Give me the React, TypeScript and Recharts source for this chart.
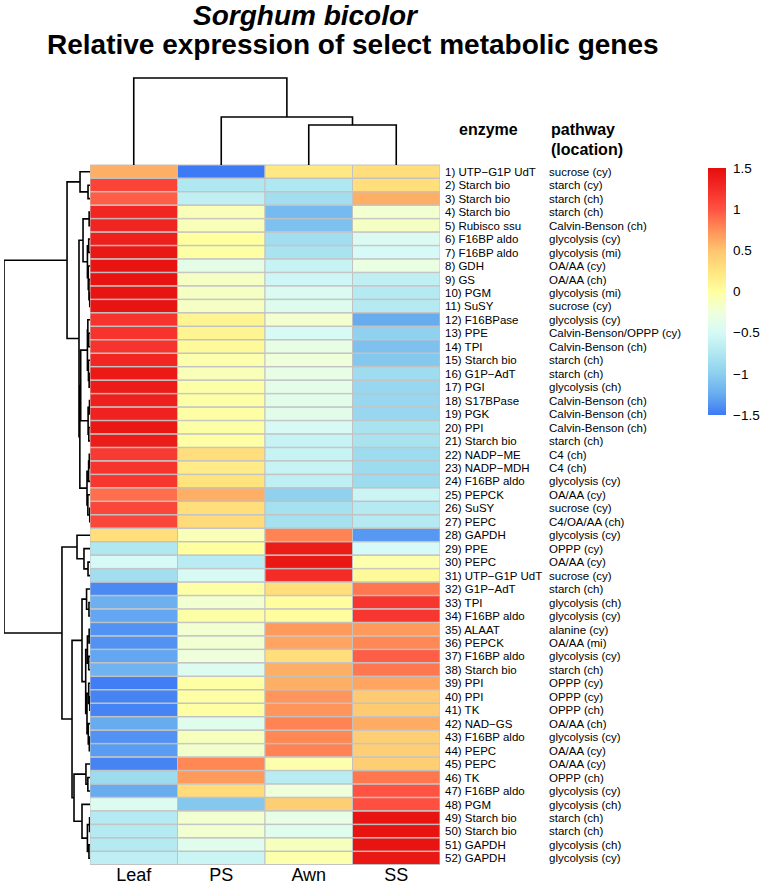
import React from 'react';
import { ComposedChart, XAxis, YAxis, Bar, Cell, Line } from 'recharts';

const FONT = '"Liberation Sans", Arial, Helvetica, sans-serif';

const samples = ['Leaf', 'PS', 'Awn', 'SS'];

const enzymes = [
  'UTP\u2212G1P UdT', 'Starch bio', 'Starch bio', 'Starch bio', 'Rubisco ssu', 'F16BP aldo', 'F16BP aldo', 'GDH', 'GS', 'PGM',
  'SuSY', 'F16BPase', 'PPE', 'TPI', 'Starch bio', 'G1P\u2212AdT', 'PGI', 'S17BPase', 'PGK', 'PPI',
  'Starch bio', 'NADP\u2212ME', 'NADP\u2212MDH', 'F16BP aldo', 'PEPCK', 'SuSY', 'PEPC', 'GAPDH', 'PPE', 'PEPC',
  'UTP\u2212G1P UdT', 'G1P\u2212AdT', 'TPI', 'F16BP aldo', 'ALAAT', 'PEPCK', 'F16BP aldo', 'Starch bio', 'PPI', 'PPI',
  'TK', 'NAD\u2212GS', 'F16BP aldo', 'PEPC', 'PEPC', 'TK', 'F16BP aldo', 'PGM', 'Starch bio', 'Starch bio',
  'GAPDH', 'GAPDH',
];

const pathways = [
  'sucrose (cy)', 'starch (cy)', 'starch (ch)', 'starch (ch)', 'Calvin-Benson (ch)', 'glycolysis (cy)', 'glycolysis (mi)', 'OA/AA (cy)', 'OA/AA (ch)', 'glycolysis (mi)',
  'sucrose (cy)', 'glycolysis (cy)', 'Calvin-Benson/OPPP (cy)', 'Calvin-Benson (ch)', 'starch (ch)', 'starch (ch)', 'glycolysis (ch)', 'Calvin-Benson (ch)', 'Calvin-Benson (ch)', 'Calvin-Benson (ch)',
  'starch (ch)', 'C4 (ch)', 'C4 (ch)', 'glycolysis (cy)', 'OA/AA (cy)', 'sucrose (cy)', 'C4/OA/AA (ch)', 'glycolysis (cy)', 'OPPP (cy)', 'OA/AA (cy)',
  'sucrose (cy)', 'starch (ch)', 'glycolysis (ch)', 'glycolysis (cy)', 'alanine (cy)', 'OA/AA (mi)', 'glycolysis (cy)', 'starch (ch)', 'OPPP (cy)', 'OPPP (cy)',
  'OPPP (ch)', 'OA/AA (ch)', 'glycolysis (cy)', 'OA/AA (cy)', 'OA/AA (cy)', 'OPPP (ch)', 'glycolysis (cy)', 'glycolysis (ch)', 'starch (ch)', 'starch (ch)',
  'glycolysis (ch)', 'glycolysis (cy)',
];

const leafValues = [
  0.6, 1.1, 0.95, 1.3, 1.32, 1.35, 1.42, 1.45, 1.45, 1.45,
  1.45, 1.2, 1.2, 1.2, 1.3, 1.4, 1.38, 1.35, 1.33, 1.42,
  1.38, 1.15, 1.2, 1.18, 0.88, 1.08, 1.08, 0.3, -0.75, -0.5,
  -0.85, -1.42, -1.22, -1.28, -1.38, -1.38, -1.28, -1.2, -1.48, -1.45,
  -1.45, -1.25, -1.38, -1.33, -1.45, -0.88, -1.25, -0.43, -0.72, -0.72,
  -0.72, -0.65,
];
const psValues = [
  -1.5, -0.75, -0.65, -0.1, -0.1, 0.0, -0.02, -0.35, -0.15, -0.15,
  -0.15, 0.1, 0.1, 0.05, -0.05, -0.1, -0.03, -0.03, -0.02, -0.03,
  -0.02, 0.3, 0.18, 0.25, 0.6, 0.3, 0.32, -0.1, 0.0, -0.7,
  -0.48, -0.03, -0.2, -0.03, -0.2, -0.2, -0.25, -0.43, -0.02, -0.02,
  -0.02, -0.4, -0.12, -0.18, 0.78, 0.7, 0.32, -1.05, -0.2, -0.2,
  -0.4, -0.57,
];
const awnValues = [
  0.2, -0.75, -0.85, -1.15, -1.1, -0.85, -0.8, -0.6, -0.55, -0.45,
  -0.42, -0.2, -0.48, -0.32, -0.25, -0.33, -0.36, -0.38, -0.38, -0.48,
  -0.6, -0.6, -0.6, -0.65, -0.98, -0.82, -0.82, 0.8, 1.38, 1.42,
  1.25, 0.3, 0.02, 0.02, 0.7, 0.65, 0.3, 0.6, 0.6, 0.72,
  0.72, 0.8, 0.78, 0.8, -0.05, -0.7, -0.25, 0.42, -0.33, -0.4,
  -0.12, -0.05,
];
const ssValues = [
  0.3, 0.3, 0.6, -0.2, -0.15, -0.45, -0.5, -0.3, -0.65, -0.72,
  -0.72, -1.25, -0.98, -1.1, -1.05, -0.87, -0.92, -0.92, -0.92, -0.8,
  -0.8, -0.88, -0.88, -0.88, -0.57, -0.72, -0.72, -1.35, -0.5, -0.05,
  0.05, 0.85, 1.18, 1.18, 0.7, 0.78, 0.95, 0.85, 0.65, 0.45,
  0.45, 0.62, 0.42, 0.42, 0.42, 0.85, 1.0, 1.02, 1.45, 1.45,
  1.45, 1.42,
];

// hclust-style merges: negative = leaf (row / column number), positive = earlier merge, then height
const rowMerges: [number, number, number][] = [
  [-2, -3, 2.3], [-1, 1, 11.6], [-4, -5, 1.0], [-6, -7, 1.5], [-10, -11, 0.3],
  [-9, 5, 1.2], [-8, 6, 2.0], [4, 7, 3.0], [3, 8, 8.1], [-13, -14, 1.5],
  [-12, 10, 2.5], [-16, -17, 1.0], [-15, 12, 1.8], [11, 13, 3.0], [-18, -19, 0.6],
  [-20, -21, 1.4], [15, 16, 2.2], [14, 17, 10.8], [-22, -23, 0.8], [19, -24, 1.6],
  [-26, -27, 0.3], [-25, 21, 2.5], [20, 22, 3.5], [18, 23, 11.8], [9, 24, 12.8],
  [2, 25, 26.7], [-30, -31, 2.3], [-29, 27, 7.0], [-28, 28, 15.1], [-33, -34, 1.2],
  [-32, 30, 4.0], [-35, -36, 1.0], [-37, -38, 1.5], [32, 33, 3.0], [-40, -41, 0.3],
  [-39, 35, 1.5], [-43, -44, 0.8], [-42, 37, 2.0], [36, 38, 3.5], [34, 39, 5.0],
  [31, 40, 9.3], [-46, -47, 2.5], [-45, 42, 4.7], [-49, -50, 0.5], [-51, -52, 1.2],
  [44, 45, 3.0], [-48, 46, 9.3], [43, 47, 18.6], [41, 48, 20.9], [29, 49, 32.6],
  [26, 50, 100],
];
const colMerges: [number, number, number][] = [
  [-3, -4, 40], [-2, 1, 48], [-1, 2, 87],
];

const colorbarTicks = [-1.5, -1, -0.5, 0, 0.5, 1, 1.5];
const colorbarRange = [{ key: 'scale', range: [-1.5, 1.5] }];

const paletteStops: [number, string][] = [
  [-1.5, '#3D7AF5'], [-1.25, '#68ACF0'], [-1.0, '#8CCFEE'], [-0.75, '#B0E8F1'],
  [-0.5, '#D6FAF7'], [-0.25, '#EFFFDC'], [0, '#FFFFA0'], [0.25, '#FFE47E'],
  [0.5, '#FEC46F'], [0.75, '#FF8F58'], [1.0, '#FF5242'], [1.25, '#F42C28'], [1.5, '#E50E0C'],
];

const hexToRgb = (h: string) => [1, 3, 5].map((i) => parseInt(h.slice(i, i + 2), 16));
const colorFor = (v: number) => {
  const s = paletteStops;
  if (v <= s[0][0]) return s[0][1];
  if (v >= s[s.length - 1][0]) return s[s.length - 1][1];
  for (let i = 0; i < s.length - 1; i++) {
    const [v0, c0] = s[i];
    const [v1, c1] = s[i + 1];
    if (v >= v0 && v <= v1) {
      const t = (v - v0) / (v1 - v0);
      const a = hexToRgb(c0);
      const b = hexToRgb(c1);
      const m = a.map((x, k) => Math.round(x + (b[k] - x) * t));
      return `rgb(${m[0]},${m[1]},${m[2]})`;
    }
  }
  return '#fff';
};

// Build polyline points for a dendrogram; pos = leaf position axis, ht = merge height axis
const dendroPoints = (merges: [number, number, number][]) => {
  const pos: number[] = [];
  const hts: number[] = [];
  const pts: { pos: number; ht: number | null; posv: number | null }[] = [];
  const info = (id: number) => (id < 0 ? { p: -id - 0.5, h: 0 } : { p: pos[id - 1], h: hts[id - 1] });
  merges.forEach(([a, b, h], i) => {
    const A = info(a);
    const B = info(b);
    pts.push({ pos: A.p, ht: A.h, posv: A.p });
    pts.push({ pos: A.p, ht: h, posv: A.p });
    pts.push({ pos: B.p, ht: h, posv: B.p });
    pts.push({ pos: B.p, ht: B.h, posv: B.p });
    pts.push({ pos: B.p, ht: null, posv: null });
    pos[i] = (A.p + B.p) / 2;
    hts[i] = h;
  });
  return pts;
};

const valueColumns = [leafValues, psValues, awnValues, ssValues];
const heatRows = enzymes.map((_, i) => ({ row: i, Leaf: 1, PS: 1, Awn: 1, SS: 1 }));
const colTicks = samples.map((_, i) => i + 0.5);

const RowTick = (props: any) => {
  const { x, y, payload } = props;
  const i = Number(payload.value);
  return (
    <g>
      <text x={x} y={y} dy="0.36em" fontSize={11.5} fontFamily={FONT} fill="#000">
        {`${i + 1}) ${enzymes[i]}`}
      </text>
      <text x={x + 104} y={y} dy="0.36em" fontSize={11.5} fontFamily={FONT} fill="#000">
        {pathways[i]}
      </text>
    </g>
  );
};

const ColTick = (props: any) => {
  const { x, y, payload } = props;
  const i = Math.floor(payload.value);
  return (
    <text x={x} y={y + 16} textAnchor="middle" fontSize={18} fontFamily={FONT} fill="#000">
      {samples[i]}
    </text>
  );
};

const BORDER = '#C2C2C2';

export default function App() {
  const rowPts = dendroPoints(rowMerges);
  const colPts = dendroPoints(colMerges);
  return (
    <div style={{ position: 'absolute', left: 0, top: 0, width: 760, height: 885, background: '#fff', overflow: 'hidden' }}>
      <svg width={0} height={0} style={{ position: 'absolute' }}>
        <defs>
          <linearGradient id="cbGrad" x1="0" y1="1" x2="0" y2="0">
            {paletteStops.map(([v, c]) => (
              <stop key={v} offset={`${((v + 1.5) / 3) * 100}%`} stopColor={c} />
            ))}
          </linearGradient>
        </defs>
      </svg>

      {/* Title and label headers */}
      <svg width={760} height={165} style={{ position: 'absolute', left: 0, top: 0 }}>
        <text x={193} y={25} fontSize={28} fontWeight="bold" fontStyle="italic" fontFamily={FONT} fill="#000">
          Sorghum bicolor
        </text>
        <text x={47} y={54} fontSize={28} fontWeight="bold" fontFamily={FONT} fill="#000">
          Relative expression of select metabolic genes
        </text>
        <text x={459} y={135} fontSize={16} fontWeight="bold" fontFamily={FONT} fill="#000">enzyme</text>
        <text x={551} y={135} fontSize={16} fontWeight="bold" fontFamily={FONT} fill="#000">pathway</text>
        <text x={551} y={155} fontSize={16} fontWeight="bold" fontFamily={FONT} fill="#000">(location)</text>
      </svg>

      {/* Heatmap: one stacked bar per row, one segment per sample */}
      <div style={{ position: 'absolute', left: 0, top: 0 }}>
        <ComposedChart
          layout="vertical"
          data={heatRows}
          width={760}
          height={885}
          margin={{ top: 165, right: 0, bottom: 0, left: 90 }}
          barCategoryGap={0}
          barGap={0}
        >
          <XAxis
            type="number"
            domain={[0, 4]}
            allowDataOverflow
            ticks={colTicks}
            interval={0}
            height={20}
            axisLine={false}
            tickLine={false}
            tickSize={0}
            tickMargin={0}
            tick={<ColTick />}
          />
          <YAxis
            type="category"
            dataKey="row"
            orientation="right"
            width={320}
            interval={0}
            axisLine={false}
            tickLine={false}
            tickSize={0}
            tickMargin={5}
            tick={<RowTick />}
          />
          {samples.map((s, c) => (
            <Bar key={s} dataKey={s} stackId="heat" isAnimationActive={false} stroke={BORDER} strokeWidth={1}>
              {valueColumns[c].map((v, r) => (
                <Cell key={r} fill={colorFor(v)} />
              ))}
            </Bar>
          ))}
        </ComposedChart>
      </div>

      {/* Row dendrogram */}
      <div style={{ position: 'absolute', left: 0, top: 0 }}>
        <ComposedChart data={rowPts} width={90} height={885} margin={{ top: 165, right: 0, bottom: 20, left: 4 }}>
          <XAxis dataKey="ht" type="number" domain={[0, 100]} reversed allowDataOverflow hide />
          <YAxis type="number" domain={[0, 52]} reversed allowDataOverflow hide />
          <Line
            dataKey="posv"
            isAnimationActive={false}
            dot={false}
            activeDot={false}
            connectNulls={false}
            stroke="#000"
            strokeWidth={1.6}
            type="linear"
          />
        </ComposedChart>
      </div>

      {/* Column dendrogram */}
      <div style={{ position: 'absolute', left: 0, top: 0 }}>
        <ComposedChart data={colPts} width={760} height={170} margin={{ top: 65, right: 320, bottom: 5, left: 90 }}>
          <XAxis dataKey="pos" type="number" domain={[0, 4]} allowDataOverflow hide />
          <YAxis type="number" domain={[0, 100]} allowDataOverflow hide />
          <Line
            dataKey="ht"
            isAnimationActive={false}
            dot={false}
            activeDot={false}
            connectNulls={false}
            stroke="#000"
            strokeWidth={1.6}
            type="linear"
          />
        </ComposedChart>
      </div>

      {/* Colour key */}
      <div style={{ position: 'absolute', left: 700, top: 0 }}>
        <ComposedChart
          data={colorbarRange}
          width={60}
          height={885}
          margin={{ top: 168, right: 0, bottom: 470, left: 8 }}
          barCategoryGap={0}
        >
          <XAxis dataKey="key" type="category" hide />
          <YAxis
            type="number"
            orientation="right"
            domain={[-1.5, 1.5]}
            allowDataOverflow
            ticks={colorbarTicks}
            interval={0}
            width={34}
            axisLine={false}
            tickLine={false}
            tickSize={0}
            tickMargin={7}
            tickFormatter={(v: number) => (v < 0 ? `\u2212${Math.abs(v)}` : `${v}`)}
            tick={{ fontSize: 13.5, fontFamily: FONT, fill: '#000', textAnchor: 'start' }}
          />
          <Bar dataKey="range" fill="url(#cbGrad)" isAnimationActive={false} />
        </ComposedChart>
      </div>
    </div>
  );
}
